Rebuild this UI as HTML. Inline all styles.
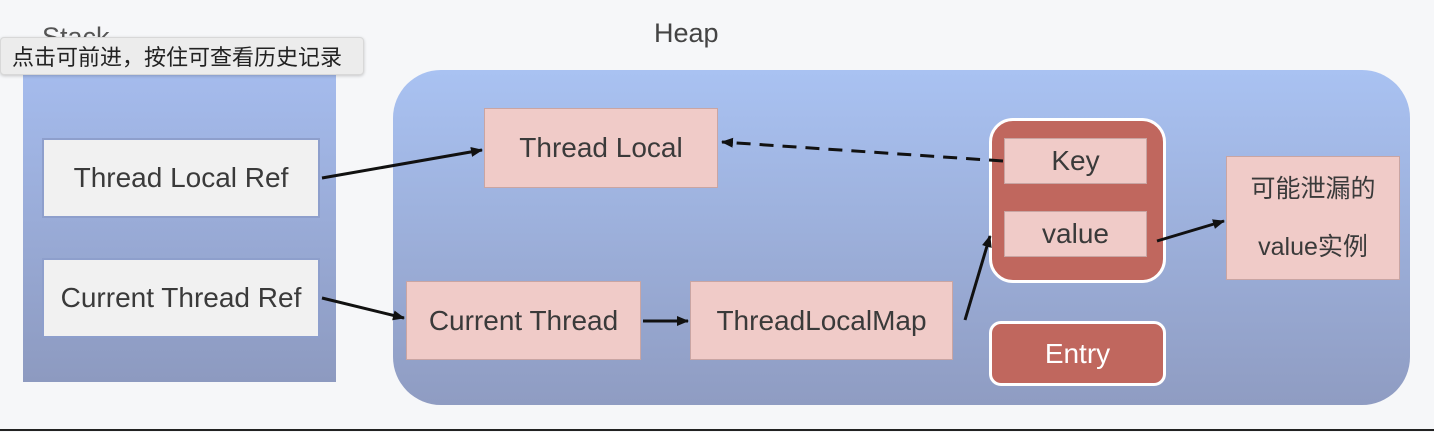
<!DOCTYPE html>
<html><head><meta charset="utf-8"><style>
body{margin:0;width:1434px;height:432px;background:#f6f7f9;position:relative;overflow:hidden;font-family:"Liberation Sans","Noto Sans CJK SC",sans-serif;}
.a{position:absolute;box-sizing:border-box;display:flex;align-items:center;justify-content:center;color:#3a3a3a;}
.w{background:#f1f1f1;border:2px solid #8e9fcc;font-size:28px;}
.p{background:#f0cbc8;border:1px solid #c9a5a3;font-size:28px;}
</style></head><body>
<div class="a" style="left:23px;top:60px;width:313px;height:322px;background:linear-gradient(#a6bdef,#8d9ac0);"></div>
<div class="a" style="left:42px;top:22px;font-size:27px;color:#555">Stack</div>
<div class="a" style="left:393px;top:70px;width:1017px;height:335px;border-radius:48px;background:linear-gradient(#a9c2f2,#8f9cc2);"></div>
<div class="a" style="left:654px;top:18px;font-size:27px;color:#444">Heap</div>
<div class="a w" style="left:42px;top:138px;width:278px;height:80px;">Thread Local Ref</div>
<div class="a w" style="left:42px;top:258px;width:278px;height:80px;">Current Thread Ref</div>
<div class="a p" style="left:484px;top:108px;width:234px;height:80px;">Thread Local</div>
<div class="a p" style="left:406px;top:281px;width:235px;height:79px;">Current Thread</div>
<div class="a p" style="left:690px;top:281px;width:263px;height:79px;">ThreadLocalMap</div>
<div class="a" style="left:989px;top:118px;width:177px;height:165px;background:#c0675e;border:3px solid #fff;border-radius:24px;"></div>
<div class="a p" style="left:1004px;top:138px;width:143px;height:46px;">Key</div>
<div class="a p" style="left:1004px;top:211px;width:143px;height:46px;">value</div>
<div class="a" style="left:989px;top:321px;width:177px;height:65px;background:#c0675e;border:3px solid #fff;border-radius:12px;color:#fff;font-size:28px;">Entry</div>
<div class="a p" style="left:1226px;top:156px;width:174px;height:124px;flex-direction:column;line-height:58px;font-size:25px;"><div>可能泄漏的</div><div>value实例</div></div>
<svg style="position:absolute;left:0;top:0" width="1434" height="432">
<defs><marker id="m" markerWidth="14" markerHeight="12" refX="11" refY="6" orient="auto" markerUnits="userSpaceOnUse"><path d="M0,1 L12,6 L0,11z" fill="#111"/></marker></defs>
<g stroke="#111" stroke-width="3" fill="none">
<line x1="322" y1="178" x2="482" y2="150" marker-end="url(#m)"/>
<line x1="322" y1="298" x2="404" y2="318" marker-end="url(#m)"/>
<line x1="643" y1="321" x2="688" y2="321" marker-end="url(#m)"/>
<line x1="965" y1="320" x2="990" y2="236" marker-end="url(#m)"/>
<line x1="1157" y1="241" x2="1224" y2="221" marker-end="url(#m)"/>
<line x1="1003" y1="161" x2="722" y2="142" stroke-dasharray="14,9" marker-end="url(#m)"/>
</g>
<line x1="0" y1="430" x2="1434" y2="430" stroke="#222" stroke-width="2"/>
</svg>
<div class="a" style="left:0;top:37px;width:364px;height:38px;background:#ececec;border:1px solid #d8d8d8;border-radius:4px;box-shadow:0 1px 3px rgba(0,0,0,.2);font-size:22px;color:#222;justify-content:flex-start;padding-left:11px;font-family:'Noto Sans CJK SC',sans-serif;">点击可前进，按住可查看历史记录</div>
</body></html>
